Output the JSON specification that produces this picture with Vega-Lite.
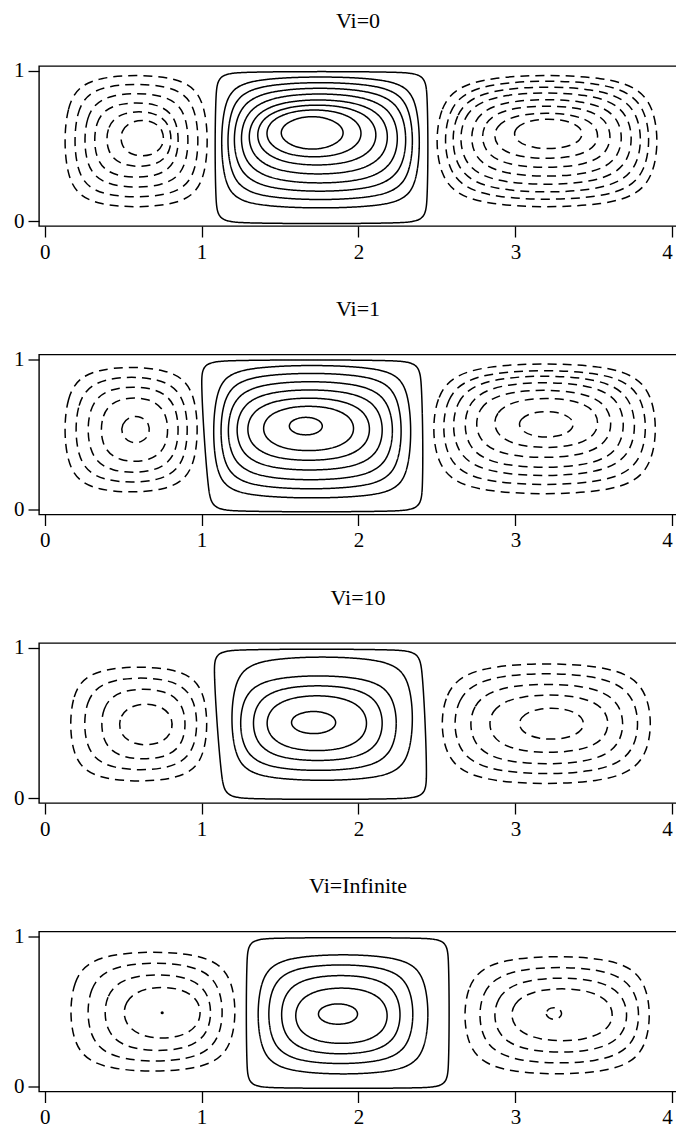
{
  "$schema": "https://vega.github.io/schema/vega-lite/v6.json",
  "background": "white",
  "padding": {"left": 12, "top": 8, "right": 0, "bottom": 0},
  "spacing": 33.5,
  "config": {
    "font": "Liberation Serif",
    "view": {"stroke": "black", "strokeWidth": 1.4},
    "axis": {"grid": false, "domain": false, "tickColor": "black", "tickWidth": 1.3, "labelColor": "black", "labelFont": "Liberation Serif", "labelFontSize": 21, "title": null, "format": "d"},
    "title": {"font": "Liberation Serif", "fontSize": 22, "fontWeight": "normal", "color": "black", "offset": 27}
  },
  "datasets": {
    "c": [
      {"p":0,"c":"L1","d":1,"x":[0.123,0.123,0.298,0.868,1.043,1.043,0.868,0.298],"y":[0.259,0.806,0.974,0.974,0.806,0.259,0.091,0.091]},
      {"p":0,"c":"L2","d":1,"x":[0.187,0.187,0.346,0.824,0.983,0.983,0.824,0.346],"y":[0.309,0.763,0.914,0.914,0.763,0.309,0.157,0.157]},
      {"p":0,"c":"L3","d":1,"x":[0.251,0.251,0.395,0.775,0.919,0.919,0.775,0.395],"y":[0.358,0.717,0.852,0.852,0.717,0.358,0.223,0.223]},
      {"p":0,"c":"L4","d":1,"x":[0.314,0.314,0.439,0.731,0.856,0.856,0.731,0.439],"y":[0.404,0.675,0.790,0.790,0.675,0.404,0.289,0.289]},
      {"p":0,"c":"L5","d":1,"x":[0.393,0.393,0.497,0.705,0.809,0.809,0.705,0.497],"y":[0.454,0.638,0.730,0.730,0.638,0.454,0.362,0.362]},
      {"p":0,"c":"L6","d":1,"x":[0.484,0.484,0.560,0.684,0.760,0.760,0.684,0.560],"y":[0.498,0.606,0.671,0.671,0.606,0.498,0.433,0.433]},
      {"p":0,"c":"C1","d":0,"x":[1.085,1.085,1.126,2.403,2.444,2.444,2.403,1.126],"y":[0.016,0.964,0.994,0.994,0.964,0.016,-0.015,-0.015]},
      {"p":0,"c":"C2","d":0,"x":[1.121,1.121,1.299,2.217,2.395,2.395,2.217,1.299],"y":[0.208,0.840,0.962,0.962,0.840,0.208,0.085,0.085]},
      {"p":0,"c":"C3","d":0,"x":[1.160,1.160,1.363,2.149,2.352,2.352,2.149,1.363],"y":[0.274,0.791,0.925,0.925,0.791,0.274,0.140,0.140]},
      {"p":0,"c":"C4","d":0,"x":[1.200,1.200,1.422,2.088,2.310,2.310,2.088,1.422],"y":[0.334,0.749,0.888,0.888,0.749,0.334,0.195,0.195]},
      {"p":0,"c":"C5","d":0,"x":[1.245,1.245,1.473,2.029,2.257,2.257,2.029,1.473],"y":[0.385,0.715,0.850,0.850,0.715,0.385,0.250,0.250]},
      {"p":0,"c":"C6","d":0,"x":[1.295,1.295,1.515,1.973,2.193,2.193,1.973,1.515],"y":[0.432,0.688,0.810,0.810,0.688,0.432,0.310,0.310]},
      {"p":0,"c":"C7","d":0,"x":[1.350,1.350,1.550,1.920,2.119,2.119,1.920,1.550],"y":[0.475,0.670,0.775,0.775,0.670,0.475,0.370,0.370]},
      {"p":0,"c":"C8","d":0,"x":[1.410,1.410,1.579,1.855,2.023,2.023,1.855,1.579],"y":[0.512,0.655,0.742,0.742,0.655,0.512,0.425,0.425]},
      {"p":0,"c":"C9","d":0,"x":[1.503,1.503,1.624,1.786,1.907,1.907,1.786,1.624],"y":[0.543,0.631,0.697,0.697,0.631,0.543,0.477,0.477]},
      {"p":0,"c":"R1","d":1,"x":[2.490,2.490,2.760,3.643,3.913,3.913,3.643,2.760],"y":[0.259,0.806,0.974,0.974,0.806,0.259,0.091,0.091]},
      {"p":0,"c":"R2","d":1,"x":[2.544,2.544,2.807,3.597,3.860,3.860,3.597,2.807],"y":[0.300,0.777,0.936,0.936,0.777,0.300,0.141,0.141]},
      {"p":0,"c":"R3","d":1,"x":[2.593,2.593,2.848,3.552,3.807,3.807,3.552,2.848],"y":[0.338,0.748,0.896,0.896,0.748,0.338,0.190,0.190]},
      {"p":0,"c":"R4","d":1,"x":[2.643,2.643,2.886,3.505,3.748,3.748,3.505,2.886],"y":[0.377,0.721,0.857,0.857,0.721,0.377,0.241,0.241]},
      {"p":0,"c":"R5","d":1,"x":[2.713,2.713,2.936,3.461,3.684,3.684,3.461,2.936],"y":[0.415,0.693,0.812,0.812,0.693,0.415,0.296,0.296]},
      {"p":0,"c":"R6","d":1,"x":[2.783,2.783,2.982,3.412,3.611,3.611,3.412,2.982],"y":[0.454,0.669,0.768,0.768,0.669,0.454,0.355,0.355]},
      {"p":0,"c":"R7","d":1,"x":[2.862,2.862,3.036,3.357,3.531,3.531,3.357,3.036],"y":[0.494,0.641,0.720,0.720,0.641,0.494,0.415,0.415]},
      {"p":0,"c":"R8","d":1,"x":[2.990,2.990,3.113,3.306,3.429,3.429,3.306,3.113],"y":[0.537,0.624,0.680,0.680,0.624,0.537,0.481,0.481]},

      {"p":1,"c":"L1","d":1,"x":[0.123,0.123,0.294,0.808,0.979,0.979,0.808,0.294],"y":[0.281,0.783,0.951,0.951,0.783,0.281,0.113,0.113]},
      {"p":1,"c":"L2","d":1,"x":[0.194,0.194,0.349,0.760,0.915,0.915,0.760,0.349],"y":[0.331,0.733,0.885,0.885,0.733,0.331,0.179,0.179]},
      {"p":1,"c":"L3","d":1,"x":[0.272,0.272,0.406,0.722,0.856,0.856,0.722,0.406],"y":[0.377,0.687,0.819,0.819,0.687,0.377,0.245,0.245]},
      {"p":1,"c":"L4","d":1,"x":[0.357,0.357,0.465,0.680,0.788,0.788,0.680,0.465],"y":[0.425,0.639,0.746,0.746,0.639,0.425,0.318,0.318]},
      {"p":1,"c":"L5","d":1,"x":[0.490,0.490,0.542,0.617,0.669,0.669,0.617,0.542],"y":[0.496,0.570,0.621,0.621,0.570,0.496,0.444,0.444]},
      {"p":1,"c":"C1","d":0,"x":[1.045,0.985,1.025,2.364,2.406,2.416,2.374,1.089],"y":[0.017,0.965,0.995,0.995,0.965,0.017,-0.013,-0.013]},
      {"p":1,"c":"C2","d":0,"x":[1.070,1.070,1.248,2.162,2.340,2.340,2.162,1.248],"y":[0.200,0.838,0.962,0.962,0.838,0.200,0.075,0.075]},
      {"p":1,"c":"C3","d":0,"x":[1.116,1.116,1.314,2.082,2.280,2.280,2.082,1.314],"y":[0.267,0.778,0.910,0.910,0.778,0.267,0.135,0.135]},
      {"p":1,"c":"C4","d":0,"x":[1.162,1.162,1.375,2.012,2.225,2.225,2.012,1.375],"y":[0.327,0.723,0.855,0.855,0.723,0.327,0.195,0.195]},
      {"p":1,"c":"C5","d":0,"x":[1.218,1.218,1.430,1.948,2.160,2.160,1.948,1.430],"y":[0.381,0.679,0.800,0.800,0.679,0.381,0.260,0.260]},
      {"p":1,"c":"C6","d":0,"x":[1.287,1.287,1.485,1.881,2.078,2.078,1.881,1.485],"y":[0.430,0.640,0.745,0.745,0.640,0.430,0.325,0.325]},
      {"p":1,"c":"C7","d":0,"x":[1.389,1.389,1.547,1.817,1.975,1.975,1.817,1.547],"y":[0.471,0.609,0.690,0.690,0.609,0.471,0.390,0.390]},
      {"p":1,"c":"C8","d":0,"x":[1.557,1.557,1.620,1.710,1.772,1.772,1.710,1.620],"y":[0.531,0.580,0.615,0.615,0.580,0.531,0.496,0.496]},
      {"p":1,"c":"R1","d":1,"x":[2.469,2.469,2.741,3.631,3.903,3.903,3.631,2.741],"y":[0.267,0.808,0.974,0.974,0.808,0.267,0.101,0.101]},
      {"p":1,"c":"R2","d":1,"x":[2.533,2.533,2.794,3.578,3.839,3.839,3.578,2.794],"y":[0.316,0.776,0.929,0.929,0.776,0.316,0.163,0.163]},
      {"p":1,"c":"R3","d":1,"x":[2.596,2.596,2.848,3.517,3.769,3.769,3.517,2.848],"y":[0.367,0.748,0.892,0.892,0.748,0.367,0.223,0.223]},
      {"p":1,"c":"R4","d":1,"x":[2.671,2.671,2.902,3.466,3.697,3.697,3.466,2.902],"y":[0.406,0.720,0.848,0.848,0.720,0.406,0.278,0.278]},
      {"p":1,"c":"R5","d":1,"x":[2.745,2.745,2.954,3.407,3.616,3.616,3.407,2.954],"y":[0.453,0.688,0.797,0.797,0.688,0.453,0.344,0.344]},
      {"p":1,"c":"R6","d":1,"x":[2.862,2.862,3.036,3.357,3.531,3.531,3.357,3.036],"y":[0.497,0.656,0.742,0.742,0.656,0.497,0.411,0.411]},
      {"p":1,"c":"R7","d":1,"x":[3.022,3.022,3.123,3.271,3.372,3.372,3.271,3.123],"y":[0.531,0.604,0.654,0.654,0.604,0.531,0.481,0.481]},

      {"p":2,"c":"L1","d":1,"x":[0.159,0.159,0.336,0.864,1.040,1.040,0.864,0.336],"y":[0.263,0.723,0.876,0.876,0.723,0.263,0.110,0.110]},
      {"p":2,"c":"L2","d":1,"x":[0.249,0.249,0.409,0.815,0.975,0.975,0.815,0.409],"y":[0.321,0.667,0.803,0.803,0.667,0.321,0.185,0.185]},
      {"p":2,"c":"L3","d":1,"x":[0.359,0.359,0.489,0.770,0.900,0.900,0.770,0.489],"y":[0.371,0.615,0.728,0.728,0.615,0.371,0.258,0.258]},
      {"p":2,"c":"L4","d":1,"x":[0.474,0.474,0.568,0.722,0.816,0.816,0.722,0.568],"y":[0.428,0.552,0.627,0.627,0.552,0.428,0.353,0.353]},
      {"p":2,"c":"C1","d":0,"x":[1.130,1.066,1.103,2.365,2.407,2.446,2.407,1.172],"y":[0.023,0.960,0.990,0.990,0.960,0.023,-0.007,-0.007]},
      {"p":2,"c":"C2","d":0,"x":[1.186,1.186,1.372,2.165,2.351,2.351,2.165,1.372],"y":[0.248,0.810,0.942,0.942,0.810,0.248,0.115,0.115]},
      {"p":2,"c":"C3","d":0,"x":[1.241,1.241,1.443,2.047,2.249,2.249,2.047,1.443],"y":[0.308,0.690,0.817,0.817,0.690,0.308,0.181,0.181]},
      {"p":2,"c":"C4","d":0,"x":[1.323,1.323,1.515,1.967,2.159,2.159,1.967,1.515],"y":[0.363,0.635,0.751,0.751,0.635,0.363,0.247,0.247]},
      {"p":2,"c":"C5","d":0,"x":[1.411,1.411,1.580,1.890,2.058,2.058,1.890,1.580],"y":[0.410,0.587,0.684,0.684,0.587,0.410,0.313,0.313]},
      {"p":2,"c":"C6","d":0,"x":[1.570,1.570,1.654,1.774,1.858,1.858,1.774,1.654],"y":[0.471,0.535,0.578,0.578,0.535,0.471,0.428,0.428]},
      {"p":2,"c":"R1","d":1,"x":[2.523,2.523,2.793,3.601,3.871,3.871,3.601,2.793],"y":[0.254,0.737,0.898,0.898,0.737,0.254,0.093,0.093]},
      {"p":2,"c":"R2","d":1,"x":[2.605,2.605,2.860,3.534,3.789,3.789,3.534,2.860],"y":[0.304,0.687,0.832,0.832,0.687,0.304,0.159,0.159]},
      {"p":2,"c":"R3","d":1,"x":[2.707,2.707,2.934,3.466,3.693,3.693,3.466,2.934],"y":[0.348,0.638,0.761,0.761,0.638,0.348,0.225,0.225]},
      {"p":2,"c":"R4","d":1,"x":[2.830,2.830,3.022,3.405,3.597,3.597,3.405,3.022],"y":[0.399,0.592,0.689,0.689,0.592,0.399,0.302,0.302]},
      {"p":2,"c":"R5","d":1,"x":[3.022,3.022,3.138,3.322,3.438,3.438,3.322,3.138],"y":[0.450,0.541,0.600,0.600,0.541,0.450,0.391,0.391]},

      {"p":3,"c":"L1","d":1,"x":[0.159,0.159,0.371,1.009,1.221,1.221,1.009,0.371],"y":[0.259,0.739,0.899,0.899,0.739,0.259,0.099,0.099]},
      {"p":3,"c":"L2","d":1,"x":[0.269,0.269,0.460,0.948,1.139,1.139,0.948,0.460],"y":[0.311,0.681,0.826,0.826,0.681,0.311,0.166,0.166]},
      {"p":3,"c":"L3","d":1,"x":[0.379,0.379,0.544,0.900,1.064,1.064,0.900,0.544],"y":[0.360,0.625,0.748,0.748,0.625,0.360,0.237,0.237]},
      {"p":3,"c":"L4","d":1,"x":[0.502,0.502,0.635,0.863,0.996,0.996,0.863,0.635],"y":[0.413,0.571,0.663,0.663,0.571,0.413,0.321,0.321]},
      {"p":3,"c":"C1","d":0,"x":[1.284,1.284,1.316,2.547,2.579,2.579,2.547,1.316],"y":[0.015,0.965,0.990,0.990,0.965,0.015,-0.010,-0.010]},
      {"p":3,"c":"C2","d":0,"x":[1.353,1.353,1.540,2.264,2.450,2.450,2.264,1.540],"y":[0.217,0.745,0.881,0.881,0.745,0.217,0.081,0.081]},
      {"p":3,"c":"C3","d":0,"x":[1.421,1.421,1.608,2.168,2.354,2.354,2.168,1.608],"y":[0.283,0.681,0.814,0.814,0.681,0.283,0.150,0.150]},
      {"p":3,"c":"C4","d":0,"x":[1.503,1.503,1.680,2.096,2.272,2.272,2.096,1.680],"y":[0.336,0.622,0.743,0.743,0.622,0.336,0.215,0.215]},
      {"p":3,"c":"C5","d":0,"x":[1.594,1.594,1.749,2.035,2.189,2.189,2.035,1.749],"y":[0.382,0.562,0.659,0.659,0.562,0.382,0.285,0.285]},
      {"p":3,"c":"C6","d":0,"x":[1.742,1.742,1.816,1.923,1.997,1.997,1.923,1.816],"y":[0.454,0.512,0.552,0.552,0.512,0.454,0.414,0.414]},
      {"p":3,"c":"R1","d":1,"x":[2.669,2.669,2.908,3.624,3.863,3.863,3.624,2.908],"y":[0.239,0.712,0.870,0.870,0.712,0.239,0.081,0.081]},
      {"p":3,"c":"R2","d":1,"x":[2.765,2.765,2.991,3.568,3.794,3.794,3.568,2.991],"y":[0.296,0.656,0.797,0.797,0.656,0.296,0.154,0.154]},
      {"p":3,"c":"R3","d":1,"x":[2.861,2.861,3.066,3.512,3.717,3.717,3.512,3.066],"y":[0.346,0.606,0.726,0.726,0.606,0.346,0.226,0.226]},
      {"p":3,"c":"R4","d":1,"x":[2.971,2.971,3.144,3.451,3.624,3.624,3.451,3.144],"y":[0.396,0.561,0.654,0.654,0.561,0.396,0.303,0.303]},
      {"p":3,"c":"R5","d":1,"x":[3.196,3.196,3.225,3.266,3.295,3.295,3.266,3.225],"y":[0.471,0.503,0.526,0.526,0.503,0.471,0.448,0.448]}
    ],
    "dots": [
      {"p":3,"x":0.749,"y":0.492}
    ]
  },
  "vconcat": [
    {
      "title": "Vi=0",
      "width": 638, "height": 160,
      "data": {"name": "c"},
      "transform": [{"filter": "datum.p == 0"}, {"flatten": ["x", "y"]}],
      "mark": {"type": "line", "interpolate": "basis-closed", "strokeWidth": 1.5, "color": "black", "strokeCap": "butt"},
      "encoding": {
        "x": {"field": "x", "type": "quantitative", "scale": {"domain": [-0.036, 4.03], "nice": false, "zero": false}, "axis": {"values": [0, 1, 2, 3, 4], "tickSize": 11, "labelPadding": 4, "labelFlush": 5}},
        "y": {"field": "y", "type": "quantitative", "scale": {"domain": [-0.03, 1.03], "nice": false, "zero": false}, "axis": {"values": [0, 1], "tickSize": 11, "labelPadding": 4}},
        "detail": {"field": "c"},
        "strokeDash": {"field": "d", "type": "nominal", "scale": {"domain": [0, 1], "range": [[1, 0], [9, 6]]}, "legend": null},
        "order": {"value": null}
      }
    },
    {
      "title": "Vi=1",
      "width": 638, "height": 160,
      "data": {"name": "c"},
      "transform": [{"filter": "datum.p == 1"}, {"flatten": ["x", "y"]}],
      "mark": {"type": "line", "interpolate": "basis-closed", "strokeWidth": 1.5, "color": "black", "strokeCap": "butt"},
      "encoding": {
        "x": {"field": "x", "type": "quantitative", "scale": {"domain": [-0.036, 4.03], "nice": false, "zero": false}, "axis": {"values": [0, 1, 2, 3, 4], "tickSize": 11, "labelPadding": 4, "labelFlush": 5}},
        "y": {"field": "y", "type": "quantitative", "scale": {"domain": [-0.03, 1.03], "nice": false, "zero": false}, "axis": {"values": [0, 1], "tickSize": 11, "labelPadding": 4}},
        "detail": {"field": "c"},
        "strokeDash": {"field": "d", "type": "nominal", "scale": {"domain": [0, 1], "range": [[1, 0], [9, 6]]}, "legend": null},
        "order": {"value": null}
      }
    },
    {
      "title": "Vi=10",
      "width": 638, "height": 160,
      "data": {"name": "c"},
      "transform": [{"filter": "datum.p == 2"}, {"flatten": ["x", "y"]}],
      "mark": {"type": "line", "interpolate": "basis-closed", "strokeWidth": 1.5, "color": "black", "strokeCap": "butt"},
      "encoding": {
        "x": {"field": "x", "type": "quantitative", "scale": {"domain": [-0.036, 4.03], "nice": false, "zero": false}, "axis": {"values": [0, 1, 2, 3, 4], "tickSize": 11, "labelPadding": 4, "labelFlush": 5}},
        "y": {"field": "y", "type": "quantitative", "scale": {"domain": [-0.03, 1.03], "nice": false, "zero": false}, "axis": {"values": [0, 1], "tickSize": 11, "labelPadding": 4}},
        "detail": {"field": "c"},
        "strokeDash": {"field": "d", "type": "nominal", "scale": {"domain": [0, 1], "range": [[1, 0], [9, 6]]}, "legend": null},
        "order": {"value": null}
      }
    },
    {
      "title": "Vi=Infinite",
      "width": 638, "height": 160,
      "layer": [
        {
          "data": {"name": "c"},
          "transform": [{"filter": "datum.p == 3"}, {"flatten": ["x", "y"]}],
          "mark": {"type": "line", "interpolate": "basis-closed", "strokeWidth": 1.5, "color": "black", "strokeCap": "butt"},
          "encoding": {
            "x": {"field": "x", "type": "quantitative", "scale": {"domain": [-0.036, 4.03], "nice": false, "zero": false}, "axis": {"values": [0, 1, 2, 3, 4], "tickSize": 11, "labelPadding": 4, "labelFlush": 5}},
            "y": {"field": "y", "type": "quantitative", "scale": {"domain": [-0.03, 1.03], "nice": false, "zero": false}, "axis": {"values": [0, 1], "tickSize": 11, "labelPadding": 4}},
            "detail": {"field": "c"},
            "strokeDash": {"field": "d", "type": "nominal", "scale": {"domain": [0, 1], "range": [[1, 0], [9, 6]]}, "legend": null},
            "order": {"value": null}
          }
        },
        {
          "data": {"name": "dots"},
          "mark": {"type": "point", "filled": true, "size": 10, "color": "black", "opacity": 1},
          "encoding": {
            "x": {"field": "x", "type": "quantitative"},
            "y": {"field": "y", "type": "quantitative"}
          }
        }
      ]
    }
  ]
}
